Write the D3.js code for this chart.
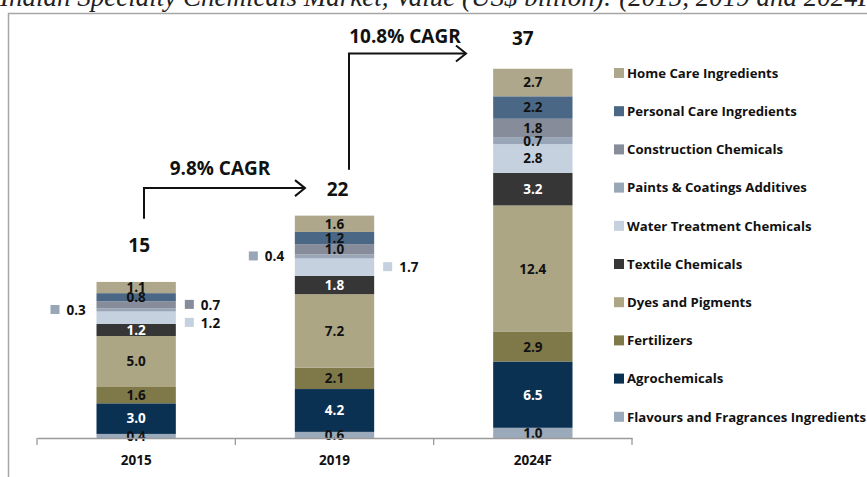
<!DOCTYPE html>
<html>
<head>
<meta charset="utf-8">
<script src="https://cdn.jsdelivr.net/npm/d3@7"></script>
<style>
  html, body { margin:0; padding:0; background:#fff; }
  svg text { font-family: "Open Sans", Lato, sans-serif; font-weight:700; }
</style>
</head>
<body>
<div id="chart"></div>
<script>
// 연도(카테고리)
var years = ["2015", "2019", "2024F"];
// 시리즈 (아래 -> 위 순서)
var series = [
  "Flavours and Fragrances Ingredients",
  "Agrochemicals",
  "Fertilizers",
  "Dyes and Pigments",
  "Textile Chemicals",
  "Water Treatment Chemicals",
  "Paints & Coatings Additives",
  "Construction Chemicals",
  "Personal Care Ingredients",
  "Home Care Ingredients"
];
var values2015 = [0.4, 3.0, 1.6, 5.0, 1.2, 1.2, 0.3, 0.7, 0.8, 1.1];
var values2019 = [0.6, 4.2, 2.1, 7.2, 1.8, 1.7, 0.4, 1.0, 1.2, 1.6];
var values2024 = [1.0, 6.5, 2.9, 12.4, 3.2, 2.8, 0.7, 1.8, 2.2, 2.7];
var totals = [15, 22, 37];
var cagrLabels = ["9.8% CAGR", "10.8% CAGR"];
var titleText = "Indian Specialty Chemicals Market, Value (US$ billion): (2015, 2019 and 2024F)";

var colors = ["#9aaabb", "#0b3152", "#7f7849", "#aca685", "#363636",
              "#c5d1df", "#98a6b8", "#868c99", "#4a6785", "#aea78b"];
// 바 밖에 표시하는 라벨
var outsideLabels = [
  {year:"2015", idx:6, side:"left"},
  {year:"2015", idx:7, side:"right"},
  {year:"2015", idx:5, side:"right"},
  {year:"2019", idx:6, side:"left"},
  {year:"2019", idx:5, side:"right"}
];
var totalOffsets = [-33, -18, -16];

var W = 867, H = 477;
var svg = d3.select("#chart").append("svg").attr("width", W).attr("height", H);

// 제목 (위쪽이 잘린 상태)
svg.append("text")
  .attr("x", 0).attr("y", 6)
  .style("font-family", "'Liberation Serif', serif")
  .style("font-style", "italic").style("font-weight", "400")
  .style("font-size", "27px").attr("fill", "#222")
  .text(titleText);

// 테두리
svg.append("path")
  .attr("d", "M8.5," + H + "V13.5H" + W)
  .attr("fill", "none").attr("stroke", "#a6a6a6").attr("stroke-width", 1.5);

var table = years.map(function(y, i){
  var vals = [values2015, values2019, values2024][i];
  var row = {year: y};
  series.forEach(function(s, j){ row[s] = vals[j]; });
  return row;
});

var x = d3.scaleBand().domain(years).range([37, 632]).paddingInner(0.6).paddingOuter(0.3);
var y = d3.scaleLinear().domain([0, 40]).range([438, 30]);

var stack = d3.stack().keys(series);
var stacked = stack(table);

var g = svg.append("g");

stacked.forEach(function(layer, j){
  g.selectAll(".seg" + j)
    .data(layer).enter().append("rect")
    .attr("x", function(d){ return x(d.data.year); })
    .attr("width", x.bandwidth())
    .attr("y", function(d){ return y(d[1]); })
    .attr("height", function(d){ return y(d[0]) - y(d[1]); })
    .attr("fill", colors[j]);
});

// 바 안쪽 라벨
function isOutside(year, j){
  return outsideLabels.some(function(o){ return o.year === year && o.idx === j; });
}
stacked.forEach(function(layer, j){
  layer.forEach(function(d){
    if (isOutside(d.data.year, j)) return;
    g.append("text")
      .attr("x", x(d.data.year) + x.bandwidth()/2)
      .attr("y", y((d[0] + d[1]) / 2))
      .attr("dy", "0.36em")
      .attr("text-anchor", "middle")
      .style("font-size", "13.5px")
      .attr("fill", (j === 1 || j === 4) ? "#fff" : "#111")
      .text(d3.format(".1f")(d.data[series[j]]));
  });
});

// 바 밖 라벨 (겹침 방지)
var placed = {};
outsideLabels.forEach(function(o){
  var layer = stacked[o.idx];
  var d = layer.find(function(e){ return e.data.year === o.year; });
  var cy = y((d[0] + d[1]) / 2);
  var k = o.year + o.side;
  if (placed[k] !== undefined && cy - placed[k] < 18) cy = placed[k] + 18;
  placed[k] = cy;
  var bx = x(o.year);
  var sx = o.side === "left" ? bx - 46 : bx + x.bandwidth() + 9;
  g.append("rect").attr("x", sx).attr("y", cy - 5).attr("width", 9).attr("height", 9)
    .attr("fill", colors[o.idx]);
  g.append("text").attr("x", sx + 16).attr("y", cy).attr("dy", "0.36em")
    .style("font-size", "13.5px").attr("fill", "#111")
    .text(d3.format(".1f")(d.data[series[o.idx]]));
});

// 합계 라벨
g.selectAll(".total").data(years).enter().append("text")
  .attr("class", "total")
  .attr("x", function(d){ return x(d) + x.bandwidth()/2 + (d === "2024F" ? -10 : 3); })
  .attr("y", function(d, i){ return y(totals[i]) + totalOffsets[i]; })
  .attr("text-anchor", "middle")
  .style("font-size", "19px").attr("fill", "#111")
  .text(function(d, i){ return totals[i]; });

// x축
var axisY = y(0);
svg.append("g").attr("transform", "translate(0," + axisY + ")")
  .call(d3.axisBottom(x).tickSize(0).tickSizeOuter(0).tickPadding(17))
  .call(function(a){
    a.select(".domain").attr("stroke", "#9a9a9a").attr("stroke-width", 1.3);
    a.selectAll("text").style("font-size", "13.5px").attr("fill", "#111")
      .style("font-family", "'Open Sans', sans-serif").style("font-weight", "700");
  });
var bounds = d3.range(years.length + 1).map(function(i){ return 37 + i * x.step(); });
svg.selectAll(".bt").data(bounds).enter().append("line")
  .attr("x1", function(d){ return d; }).attr("x2", function(d){ return d; })
  .attr("y1", axisY).attr("y2", axisY + 7)
  .attr("stroke", "#9a9a9a").attr("stroke-width", 1.3);

// CAGR 화살표
var arrows = [
  {fx:144, hx:305, vTop: y(24.5), vBot: y(21.5), text: cagrLabels[0], tx:220, ty: y(25.8)},
  {fx:349, hx:466, vTop: y(37.7), vBot: y(26.3), text: cagrLabels[1], tx:405, ty: y(38.7)}
];
arrows.forEach(function(a){
  svg.append("path")
    .attr("d", "M" + a.fx + "," + a.vBot + "V" + a.vTop + "H" + a.hx)
    .attr("fill", "none").attr("stroke", "#111").attr("stroke-width", 2);
  svg.append("path")
    .attr("d", "M" + (a.hx - 10) + "," + (a.vTop - 8) + "L" + a.hx + "," + a.vTop + "L" + (a.hx - 10) + "," + (a.vTop + 8))
    .attr("fill", "none").attr("stroke", "#111").attr("stroke-width", 2);
  svg.append("text").attr("x", a.tx).attr("y", a.ty)
    .attr("text-anchor", "middle").style("font-size", "19px").attr("fill", "#111")
    .text(a.text);
});

// 범례
var legendItems = series.slice().reverse();
var lg = svg.append("g").attr("transform", "translate(614,73)");
legendItems.forEach(function(s, i){
  var j = series.indexOf(s);
  var row = lg.append("g").attr("transform", "translate(0," + (i * 38.2) + ")");
  row.append("rect").attr("x", 0).attr("y", -5).attr("width", 10).attr("height", 10).attr("fill", colors[j]);
  row.append("text").attr("x", 13).attr("dy", "0.36em")
    .style("font-size", "13.2px").attr("fill", "#111").text(s);
});
</script>
</body>
</html>
